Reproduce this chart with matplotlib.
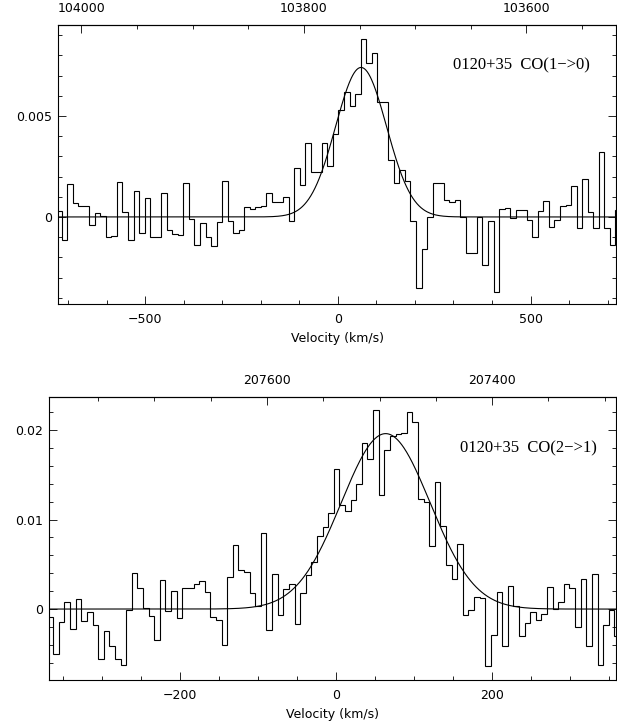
import numpy as np
import matplotlib
matplotlib.use('Agg')
import matplotlib.pyplot as plt
from matplotlib.ticker import MultipleLocator, FixedLocator, FuncFormatter

plt.rcParams['font.family'] = ['DejaVu Sans']

C_KMS = 299792.458

# CO(1->0) spectrum: 5 MHz channels (km/s), first channel edge + width
co10_edge0 = -732.1
co10_dv = 14.38
co10_flux = [
    0.00028, -0.00116, 0.00163, 0.00069, 0.00053, 0.00053, -0.00038, 0.0002,
    0.00007, -0.001, -0.00092, 0.00175, 0.00025, -0.00116, 0.0013, -0.0008,
    0.00092, -0.001, -0.001, 0.00119, -0.00066, -0.00083, -0.00089, 0.00167,
    -0.00008, -0.0014, -0.0003, -0.001, -0.00142, -0.00026, 0.00177, -0.00018,
    -0.0008, -0.00063, 0.00048, 0.0004, 0.00048, 0.00056, 0.00117, 0.00074,
    0.00074, 0.001, -0.00021, 0.0024, 0.00157, 0.00365, 0.00224, 0.00224,
    0.00365, 0.0025, 0.0041, 0.0053, 0.0062, 0.0055, 0.0061, 0.0088,
    0.0076, 0.0081, 0.0057, 0.0057, 0.0028, 0.0017, 0.0023, 0.0018,
    -0.0002, -0.0035, -0.0016, 0.0, 0.0017, 0.0017, 0.00086, 0.00073,
    0.00086, 0.0, -0.0018, -0.0018, 0.0, -0.0024, -0.0002, -0.0037,
    0.0004, 0.00045, -0.00005, 0.00036, 0.00033, -0.00017, -0.001, 0.00028,
    0.00078, -0.0005, -0.00017, 0.00053, 0.00058, 0.00155, -0.00054, 0.0019,
    0.00023, -0.00054, 0.0032, -0.00054, -0.0014, 0.00036,
]
co10_fit = (0.0074, 60.0, 66.0)   # amplitude, centre, sigma
co10_f0 = 103769.4                # MHz at v = 0
co10_freq_ticks = [104000, 103800, 103600]

# CO(2->1) spectrum
co21_edge0 = -369.7
co21_dv = 7.2
co21_flux = [
    -0.0009, -0.005, -0.0014, 0.0008, -0.0022, 0.0011, -0.0013, -0.0003,
    -0.0018, -0.0056, -0.0024, -0.0041, -0.0056, -0.0063, -0.0001, 0.004,
    0.0024, 0.0001, -0.0008, -0.0035, 0.0033, -0.0002, 0.002, -0.001,
    0.0023, 0.0024, 0.0028, 0.0031, 0.0019, -0.0009, -0.0012, -0.004,
    0.0036, 0.0072, 0.0044, 0.0041, 0.0018, 0.0003, 0.0085, -0.0023,
    0.0039, -0.0007, 0.0022, 0.0028, -0.0017, 0.0018, 0.0038, 0.0053,
    0.0082, 0.0092, 0.0107, 0.0157, 0.0116, 0.011, 0.0122, 0.014,
    0.0186, 0.0168, 0.0222, 0.0127, 0.0178, 0.0193, 0.0196, 0.0197,
    0.022, 0.0209, 0.0123, 0.012, 0.007, 0.0142, 0.0093, 0.0049,
    0.0034, 0.0073, -0.0007, -0.0001, 0.0014, 0.0012, -0.0064, -0.0029,
    0.0019, -0.0041, 0.0026, 0.0003, -0.003, -0.0016, -0.0003, -0.0012,
    -0.0006, 0.0025, 0.0, 0.0008, 0.0028, 0.0023, -0.002, 0.0034,
    -0.0041, 0.0039, -0.0063, -0.0018, -0.0001, -0.003,
]
co21_fit = (0.0196, 64.0, 57.0)
co21_f0 = 207538.9
co21_freq_ticks = [207600, 207400]

panels = [
    dict(flux=co10_flux, edge0=co10_edge0, dv=co10_dv, fit=co10_fit, f0=co10_f0,
         fticks=co10_freq_ticks,
         rect=[0.094, 0.5818, 0.9044, 0.3838], xlim=(-727, 722),
         ylim=(-0.00431, 0.0095), xmaj=500, xmin=100, ymaj=0.005, ymin=0.001,
         label='0120+35  CO(1\u2212>0)', lpos=(0.708, 0.857)),
    dict(flux=co21_flux, edge0=co21_edge0, dv=co21_dv, fit=co21_fit, f0=co21_f0,
         fticks=co21_freq_ticks,
         rect=[0.0794, 0.0646, 0.919, 0.3893], xlim=(-368, 359.6),
         ylim=(-0.00793, 0.02369), xmaj=200, xmin=50, ymaj=0.01, ymin=0.002,
         label='0120+35  CO(2\u2212>1)', lpos=(0.725, 0.82)),
]

fig = plt.figure(figsize=(6.17, 7.27), dpi=100)

for p in panels:
    ax = fig.add_axes(p['rect'])
    flux = np.array(p['flux'])
    edges = p['edge0'] + p['dv'] * np.arange(len(flux) + 1)
    ax.stairs(flux, edges, baseline=None, color='k', lw=0.8)

    amp, v0, sig = p['fit']
    vv = np.linspace(p['xlim'][0], p['xlim'][1], 800)
    ax.plot(vv, amp * np.exp(-0.5 * ((vv - v0) / sig) ** 2), color='k', lw=0.8)

    ax.set_xlim(p['xlim'])
    ax.set_ylim(p['ylim'])
    ax.xaxis.set_major_locator(MultipleLocator(p['xmaj']))
    ax.xaxis.set_minor_locator(MultipleLocator(p['xmin']))
    ax.yaxis.set_major_locator(MultipleLocator(p['ymaj']))
    ax.yaxis.set_minor_locator(MultipleLocator(p['ymin']))
    ax.yaxis.set_major_formatter(FuncFormatter(lambda y, pos: '%g' % round(y, 4)))
    ax.tick_params(which='both', direction='in', top=False, right=True,
                   width=0.6, labelsize=9)
    ax.tick_params(which='major', length=6)
    ax.tick_params(which='minor', length=3)
    ax.tick_params(axis='x', pad=6.5)
    ax.tick_params(axis='y', pad=4)
    for s in ax.spines.values():
        s.set_linewidth(0.8)

    f0 = p['f0']
    sec = ax.secondary_xaxis('top', functions=(lambda v, f0=f0: f0 * (1 - v / C_KMS),
                                               lambda f, f0=f0: C_KMS * (1 - f / f0)))
    sec.xaxis.set_major_locator(FixedLocator(p['fticks']))
    sec.xaxis.set_minor_locator(MultipleLocator(50))
    sec.xaxis.set_major_formatter(FuncFormatter(lambda f, pos: '%d' % round(f)))
    sec.tick_params(which='both', direction='in', width=0.6, labelsize=9, pad=7)
    sec.tick_params(which='major', length=6)
    sec.tick_params(which='minor', length=3)
    sec.spines['top'].set_linewidth(0.8)

    ax.set_xlabel('Velocity (km/s)', fontsize=9, labelpad=4.5)
    ax.text(p['lpos'][0], p['lpos'][1], p['label'], transform=ax.transAxes,
            family='Liberation Serif', fontsize=12, va='center', ha='left')

fig.savefig('out.png', dpi=100)
